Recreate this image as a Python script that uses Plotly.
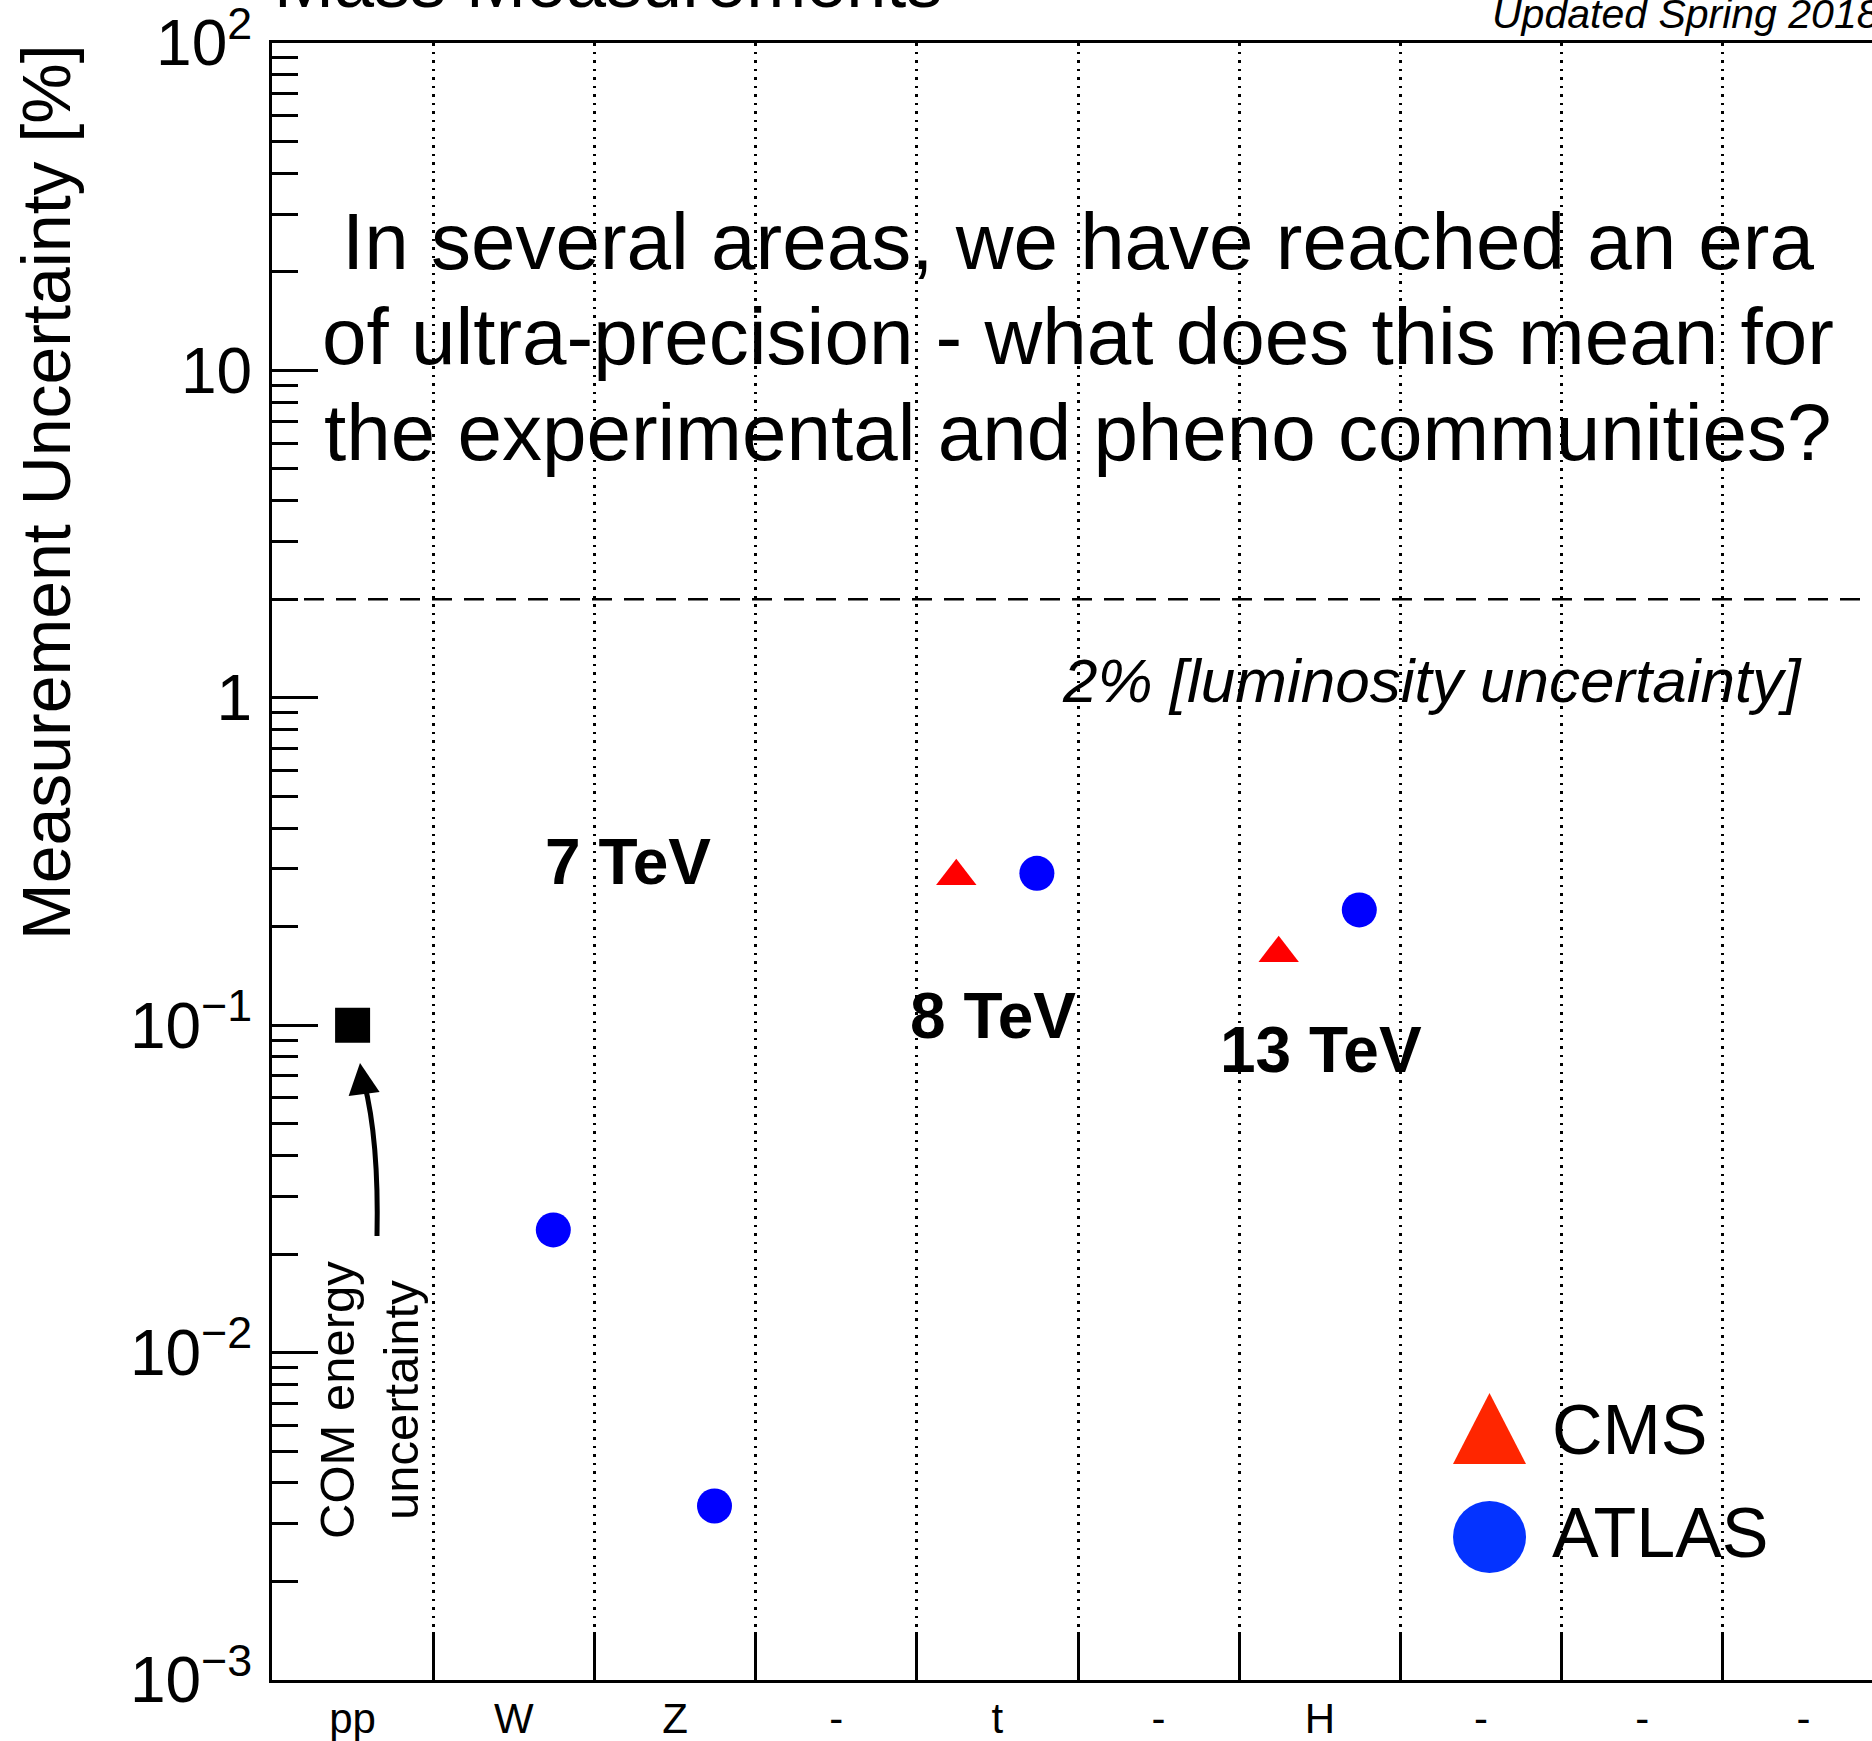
import plotly.graph_objects as go

# ---- data -------------------------------------------------------------
categories = ["pp", "W", "Z", "-", "t", "-", "H", "-", "-", "-"]

com_categories = ["pp"]
com_uncertainty = [0.1]            # % (COM energy uncertainty)

cms_categories = ["t", "H"]
cms_uncertainty = [0.285, 0.166]   # %

atlas_categories = ["W", "Z", "t", "H"]
atlas_uncertainty = [0.0237, 0.0034, 0.291, 0.225]  # %

lumi_uncertainty = 2.0             # %

y_tick_values = [1e-3, 1e-2, 1e-1, 1, 10, 100]
y_tick_labels = ["10<sup>−3</sup>", "10<sup>−2</sup>", "10<sup>−1</sup>",
                 "1", "10", "10<sup>2</sup>"]

# ---- geometry ---------------------------------------------------------
W, H = 1872, 1741
ML, MR, MT, MB = 272, 0, 43, 61
CMS_SHIFT, ATLAS_SHIFT = -0.255, 0.245

FONT = "Liberation Sans, Arial, Helvetica, sans-serif"


def px(x):
    return (x - ML) / (W - ML - MR)


def py(y):
    return (H - MB - y) / (H - MB - MT)


def idx(names, shift=0.0):
    return [categories.index(n) + shift for n in names]


fig = go.Figure()

fig.add_trace(go.Scatter(
    x=idx(com_categories), y=com_uncertainty, mode="markers",
    marker=dict(symbol="square", size=35, color="black", line=dict(width=0)),
    name="COM energy", showlegend=False))

fig.add_trace(go.Scatter(
    x=idx(cms_categories, CMS_SHIFT), y=cms_uncertainty, mode="markers",
    marker=dict(symbol="triangle-up", size=35, color="#ff0000", line=dict(width=0)),
    name="CMS", showlegend=False))

fig.add_trace(go.Scatter(
    x=idx(atlas_categories, ATLAS_SHIFT), y=atlas_uncertainty, mode="markers",
    marker=dict(symbol="circle", size=35, color="#0000ff", line=dict(width=0)),
    name="ATLAS", showlegend=False))

# luminosity reference line
fig.add_hline(y=lumi_uncertainty, line=dict(color="black", width=2.5, dash="20px,12px"))

shapes = []
# white box behind the headline text
shapes.append(dict(type="rect", xref="paper", yref="paper", layer="between",
                   x0=px(305), x1=px(1872), y0=py(495), y1=py(177),
                   fillcolor="white", line=dict(width=0)))
# legend keys
shapes.append(dict(type="path", xref="paper", yref="paper", layer="above",
                   path=f"M {px(1453)} {py(1464)} L {px(1489.5)} {py(1393)} L {px(1526)} {py(1464)} Z",
                   fillcolor="#ff2600", line=dict(width=0)))
shapes.append(dict(type="circle", xref="paper", yref="paper", layer="above",
                   x0=px(1453), x1=px(1526), y0=py(1573), y1=py(1501),
                   fillcolor="#0433ff", line=dict(width=0)))
# curved shaft of the arrow under the COM energy marker
shapes.append(dict(type="path", xref="paper", yref="paper", layer="above",
                   path=f"M {px(377)} {py(1236)} Q {px(379)} {py(1140)} {px(364)} {py(1082)}",
                   line=dict(color="black", width=5)))
for s in shapes:
    fig.add_shape(**s)

ann = []
headline = ["In several areas, we have reached an era",
            "of ultra-precision - what does this mean for",
            "the experimental and pheno communities?"]
for i, line in enumerate(headline):
    ann.append(dict(text=line, x=px(1078), y=py(241 + 95.5 * i), xanchor="center",
                    yanchor="middle", font=dict(size=80, color="black")))

for label, cx, cy in [("7 TeV", 628, 862), ("8 TeV", 993, 1016), ("13 TeV", 1321, 1050)]:
    ann.append(dict(text=f"<b>{label}</b>", x=px(cx), y=py(cy), xanchor="center",
                    yanchor="middle", font=dict(size=64, color="black")))

ann.append(dict(text="<i>2% [luminosity uncertainty]</i>", x=px(1432), y=py(680),
                xanchor="center", yanchor="middle", font=dict(size=62, color="black")))

ann.append(dict(text="CMS", x=px(1550), y=py(1430), xanchor="left", yanchor="middle",
                font=dict(size=70, color="black")))
ann.append(dict(text="ATLAS", x=px(1550), y=py(1533), xanchor="left", yanchor="middle",
                font=dict(size=70, color="black")))

ann.append(dict(text="COM energy", x=px(337), y=py(1400), textangle=-90,
                xanchor="center", yanchor="middle", font=dict(size=49, color="black")))
ann.append(dict(text="uncertainty", x=px(401), y=py(1400), textangle=-90,
                xanchor="center", yanchor="middle", font=dict(size=49, color="black")))

# arrow head pointing to the COM energy marker
ann.append(dict(text="", x=px(360), y=py(1063), ax=4, ay=30, showarrow=True,
                arrowhead=2, arrowsize=1.25, arrowwidth=5, arrowcolor="black"))

ann.append(dict(text="Measurement Uncertainty [%]", x=px(46), y=py(492), textangle=-90,
                xanchor="center", yanchor="middle", font=dict(size=68, color="black")))

ann.append(dict(text="Mass Measurements", x=px(272), y=py(24), xanchor="left",
                yanchor="bottom", font=dict(size=72, color="black")))
ann.append(dict(text="<i>Updated Spring 2018</i>", x=px(1882), y=py(14), xanchor="right",
                yanchor="middle", font=dict(size=41, color="black")))

for a in ann:
    a.setdefault("showarrow", False)
    a.update(xref="paper", yref="paper")
    fig.add_annotation(**a)

boundaries = [i + 0.5 for i in range(len(categories) - 1)]
minor_y = [k * 10.0 ** e for e in range(-3, 2) for k in range(2, 10)]

fig.update_xaxes(
    range=[-0.5, -0.5 + (W - ML - MR) / 161.2],
    tickmode="array", tickvals=list(range(len(categories))), ticktext=categories,
    ticks="", showgrid=False, zeroline=False, automargin=False,
    showline=True, linewidth=3, linecolor="black", mirror=True,
    tickfont=dict(size=42, color="black"), ticklabelstandoff=0,
    ticklabeloverflow="allow",
    minor=dict(tickmode="array", tickvals=boundaries, ticks="inside", ticklen=48,
               tickwidth=2.5, tickcolor="black", showgrid=True, gridcolor="black",
               gridwidth=2.5, griddash="2.5px,6px"),
)

fig.update_yaxes(
    type="log", range=[-3, 2],
    tickmode="array", tickvals=y_tick_values, ticktext=y_tick_labels,
    ticks="inside", ticklen=46, tickwidth=2.5, tickcolor="black",
    showgrid=False, zeroline=False, automargin=False,
    showline=True, linewidth=3, linecolor="black", mirror=False,
    tickfont=dict(size=64, color="black"), ticklabelstandoff=4,
    ticklabeloverflow="allow",
    minor=dict(tickmode="array", tickvals=minor_y, ticks="inside", ticklen=26,
               tickwidth=2.5, tickcolor="black", showgrid=False),
)

fig.update_layout(
    template="none",
    width=W, height=H,
    margin=dict(l=ML, r=MR, t=MT, b=MB, pad=0, autoexpand=False),
    paper_bgcolor="white", plot_bgcolor="white",
    font=dict(family=FONT, color="black"),
    showlegend=False,
)

fig.write_html("out.html", config={"displayModeBar": False})
